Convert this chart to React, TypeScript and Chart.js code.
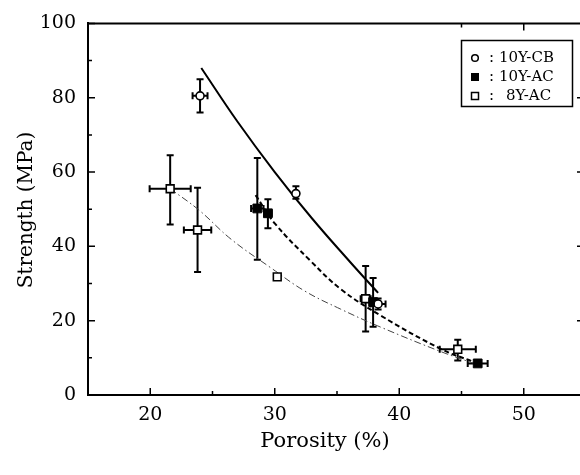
import { useEffect, useRef } from "react";
import { Chart, registerables } from "chart.js";

Chart.register(...registerables);

// ---- data ----
// 10Y-CB (open circles)
const cbX = [24.0, 31.7, 38.3];
const cbY = [80.5, 54.2, 24.5];
const cbYLow = [76.0, 52.8, 23.0];
const cbYHigh = [85.0, 56.2, 26.0];
const cbXErr = [0.6, 0.0, 0.6];

// 10Y-AC (filled squares)
const acX = [28.6, 29.45, 37.9, 46.3];
const acY = [50.2, 48.9, 25.0, 8.5];
const acYLow = [36.4, 44.9, 18.4, 7.8];
const acYHigh = [63.8, 52.7, 31.5, 9.2];
const acXErr = [0.5, 0.3, 0.0, 0.8];

// 8Y-AC (open squares)
const y8X = [21.6, 23.8, 30.2, 37.3, 44.7];
const y8Y = [55.5, 44.4, 31.8, 25.9, 12.3];
const y8YLow = [45.9, 33.1, 31.8, 17.1, 9.3];
const y8YHigh = [64.5, 55.8, 31.8, 34.7, 14.9];
const y8XErr = [1.65, 1.1, 0.0, 0.4, 1.45];

// fitted curves
const cbFitX = [24.1, 27.0, 30.0, 33.0, 36.0, 38.3];
const cbFitY = [88.0, 73.6, 60.0, 47.5, 36.0, 27.5];
const acFitX = [28.46, 30.0, 32.9, 35.3, 38.55, 43.4, 46.0];
const acFitY = [53.8, 46.2, 36.0, 28.5, 21.3, 12.3, 8.9];
const y8FitX = [21.6, 23.9, 26.5, 29.7, 32.4, 35.3, 38.55, 43.4, 46.0];
const y8FitY = [55.5, 49.8, 41.9, 34.2, 28.0, 23.1, 18.2, 11.6, 8.5];

const xTicks = [20, 30, 40, 50];
const yTicks = [0, 20, 40, 60, 80, 100];
const xMinorTicks = [20, 25, 30, 35, 40, 45, 50];
const yMinorTicks = [0, 10, 20, 30, 40, 50, 60, 70, 80, 90, 100];
const topTicks = [45, 50];
const rightTicks = [20, 40, 60, 80];

const legendLabels = ["10Y-CB", "10Y-AC", "8Y-AC"];

const FONT = "'DejaVu Serif', 'Liberation Serif', serif";

const pts = (xs: number[], ys: number[]) => xs.map((x, i) => ({ x, y: ys[i] }));

function drawErrors(
  ctx: CanvasRenderingContext2D,
  xs: any,
  ysc: any,
  X: number[],
  Y: number[],
  lo: number[],
  hi: number[],
  xe: number[]
) {
  const cap = 3.5;
  for (let i = 0; i < X.length; i++) {
    const px = xs.getPixelForValue(X[i]);
    const py = ysc.getPixelForValue(Y[i]);
    if (hi[i] - lo[i] > 0.01) {
      const t = ysc.getPixelForValue(hi[i]);
      const b = ysc.getPixelForValue(lo[i]);
      ctx.beginPath();
      ctx.moveTo(px, t);
      ctx.lineTo(px, b);
      ctx.moveTo(px - cap, t);
      ctx.lineTo(px + cap, t);
      ctx.moveTo(px - cap, b);
      ctx.lineTo(px + cap, b);
      ctx.stroke();
    }
    if (xe[i] > 0.01) {
      const l = xs.getPixelForValue(X[i] - xe[i]);
      const r = xs.getPixelForValue(X[i] + xe[i]);
      ctx.beginPath();
      ctx.moveTo(l, py);
      ctx.lineTo(r, py);
      ctx.moveTo(l, py - cap);
      ctx.lineTo(l, py + cap);
      ctx.moveTo(r, py - cap);
      ctx.lineTo(r, py + cap);
      ctx.stroke();
    }
  }
}

const decorPlugin = {
  id: "decor",
  beforeDatasetsDraw(chart: any) {
    const { ctx, scales } = chart;
    const xs = scales.x;
    const ysc = scales.y;
    ctx.save();
    ctx.strokeStyle = "#000";
    ctx.lineWidth = 2;
    drawErrors(ctx, xs, ysc, cbX, cbY, cbYLow, cbYHigh, cbXErr);
    drawErrors(ctx, xs, ysc, acX, acY, acYLow, acYHigh, acXErr);
    drawErrors(ctx, xs, ysc, y8X, y8Y, y8YLow, y8YHigh, y8XErr);
    ctx.restore();
  },
  afterDraw(chart: any) {
    const { ctx, chartArea, scales } = chart;
    const xs = scales.x;
    const ysc = scales.y;
    const { left, right, top, bottom } = chartArea;
    ctx.save();
    ctx.strokeStyle = "#000";
    // top frame line
    ctx.lineWidth = 2;
    ctx.beginPath();
    ctx.moveTo(left, top);
    ctx.lineTo(right, top);
    ctx.stroke();
    // inward ticks
    ctx.lineWidth = 1.5;
    ctx.beginPath();
    yMinorTicks.forEach((v) => {
      const py = ysc.getPixelForValue(v);
      const len = v % 20 === 0 ? 7 : 4;
      ctx.moveTo(left, py);
      ctx.lineTo(left + len, py);
    });
    xMinorTicks.forEach((v) => {
      const px = xs.getPixelForValue(v);
      const len = v % 10 === 0 ? 7 : 4;
      ctx.moveTo(px, bottom);
      ctx.lineTo(px, bottom - len);
    });
    topTicks.forEach((v) => {
      const px = xs.getPixelForValue(v);
      ctx.moveTo(px, top);
      ctx.lineTo(px, top + (v % 10 === 0 ? 7 : 4));
    });
    rightTicks.forEach((v) => {
      const py = ysc.getPixelForValue(v);
      ctx.moveTo(right, py);
      ctx.lineTo(right - 9, py);
    });
    ctx.stroke();

    // axis titles
    ctx.fillStyle = "#000";
    ctx.textBaseline = "middle";
    ctx.textAlign = "center";
    ctx.font = `21px ${FONT}`;
    ctx.fillText("Porosity (%)", 325, 442);
    ctx.save();
    ctx.translate(27, 210);
    ctx.rotate(-Math.PI / 2);
    ctx.font = `20px ${FONT}`;
    ctx.fillText("Strength (MPa)", 0, 0);
    ctx.restore();

    // legend
    const bx = 461.5, by = 40.5, bw = 111, bh = 66;
    ctx.lineWidth = 1.5;
    ctx.strokeRect(bx, by, bw, bh);
    const rows = [58, 77, 96];
    const mx = 475;
    ctx.font = `15px ${FONT}`;
    ctx.textAlign = "left";
    ctx.textBaseline = "middle";
    rows.forEach((ry, i) => {
      ctx.lineWidth = 1.5;
      if (i === 0) {
        ctx.beginPath();
        ctx.arc(mx, ry, 3.3, 0, Math.PI * 2);
        ctx.stroke();
      } else if (i === 1) {
        ctx.fillRect(mx - 4, ry - 4, 8, 8);
      } else {
        ctx.strokeRect(mx - 3.5, ry - 3.5, 7, 7);
      }
      ctx.fillText(":", 489, ry);
      ctx.fillText(legendLabels[i], i === 2 ? 506 : 499, ry);
    });
    ctx.restore();
  },
};

export default function App() {
  const ref = useRef<HTMLCanvasElement>(null);
  useEffect(() => {
    const canvas = ref.current;
    if (!canvas) return;
    const chart = new Chart(canvas, {
      type: "scatter",
      data: {
        datasets: [
          {
            label: "10Y-CB",
            data: pts(cbX, cbY),
            pointStyle: "circle",
            pointRadius: 4,
            pointBackgroundColor: "#fff",
            pointBorderColor: "#000",
            pointBorderWidth: 1.6,
          },
          {
            label: "10Y-AC",
            data: pts(acX, acY),
            pointStyle: "rect",
            pointRadius: 6.2,
            pointBackgroundColor: "#000",
            pointBorderColor: "#000",
            pointBorderWidth: 1,
          },
          {
            label: "8Y-AC",
            data: pts(y8X, y8Y),
            pointStyle: "rect",
            pointRadius: 5.5,
            pointBackgroundColor: "#fff",
            pointBorderColor: "#000",
            pointBorderWidth: 1.6,
          },
          {
            label: "fit 10Y-CB",
            data: pts(cbFitX, cbFitY),
            showLine: true,
            borderColor: "#000",
            borderWidth: 2,
            pointRadius: 0,
            tension: 0.4,
          } as any,
          {
            label: "fit 10Y-AC",
            data: pts(acFitX, acFitY),
            showLine: true,
            borderColor: "#000",
            borderWidth: 2,
            borderDash: [5, 3],
            pointRadius: 0,
            tension: 0.4,
          } as any,
          {
            label: "fit 8Y-AC",
            data: pts(y8FitX, y8FitY),
            showLine: true,
            borderColor: "#444",
            borderWidth: 1,
            borderDash: [7, 3, 1.5, 3],
            pointRadius: 0,
            tension: 0.4,
          } as any,
        ],
      },
      options: {
        animation: false,
        responsive: false,
        maintainAspectRatio: false,
        layout: { padding: { left: 0, top: 20, right: 14, bottom: 0 } },
        plugins: {
          legend: { display: false },
          tooltip: { enabled: false },
          title: { display: false },
        },
        scales: {
          x: {
            type: "linear",
            min: 15,
            max: 55,
            afterBuildTicks: (s: any) => {
              s.ticks = xTicks.map((v) => ({ value: v }));
            },
            afterFit: (s: any) => {
              s.height = 80;
            },
            grid: { display: false, drawTicks: false },
            border: { display: true, color: "#000", width: 2 },
            ticks: {
              color: "#000",
              padding: 9,
              font: { family: FONT, size: 19 },
              maxRotation: 0,
            },
          },
          y: {
            type: "linear",
            min: 0,
            max: 100,
            afterBuildTicks: (s: any) => {
              s.ticks = yTicks.map((v) => ({ value: v }));
            },
            afterFit: (s: any) => {
              s.width = 88;
            },
            grid: { display: false, drawTicks: false },
            border: { display: true, color: "#000", width: 2 },
            ticks: {
              color: "#000",
              padding: 12,
              font: { family: FONT, size: 19 },
            },
          },
        },
      },
      plugins: [decorPlugin],
    });
    return () => chart.destroy();
  }, []);
  return (
    <div
      style={{
        position: "absolute",
        left: 0,
        top: 0,
        width: 580,
        height: 475,
        overflow: "hidden",
        background: "#fff",
      }}
    >
      <canvas ref={ref} width={600} height={475} style={{ display: "block", width: 600, height: 475 }} />
    </div>
  );
}
